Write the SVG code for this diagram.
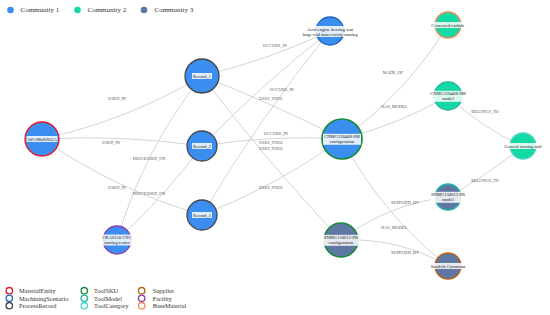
<svg xmlns="http://www.w3.org/2000/svg" width="550" height="315" viewBox="0 0 550 315">
<style>
.edge{fill:none;stroke:#cfcfcf;stroke-width:0.9}
.el{font-family:"Liberation Serif","Times New Roman",serif;font-size:4.3px;fill:#555;text-anchor:middle;dominant-baseline:central}
.nl{font-family:"Liberation Serif","Times New Roman",serif;font-size:4.6px;fill:#222;text-anchor:middle;dominant-baseline:central}
.bg{fill:#fff;fill-opacity:0.85}
.c1{fill:#3b8def}.c2{fill:#15d9a4}.c3{fill:#5f77a3}
.n{stroke-width:1.3}
.mat{stroke:#e41a2a}.scn{stroke:#1f63c6}.rec{stroke:#444}.sku{stroke:#178a3a;stroke-width:1.6}
.mdl{stroke:#1fb5a5}.cat{stroke:#48d8c8}.sup{stroke:#b8620f}.fac{stroke:#8e3ba6}.bm{stroke:#f58a5c}
.lg{font-family:"Liberation Serif","Times New Roman",serif;fill:#333;dominant-baseline:central}
.lc{fill:#fff;stroke-width:1.3}
</style>
<rect width="550" height="315" fill="#fff"/>
<g id="legend-community">
<circle cx="10.5" cy="10" r="3.3" class="c1"/><text class="lg" x="20.5" y="10" font-size="7">Community 1</text>
<circle cx="77.5" cy="10" r="3.3" class="c2"/><text class="lg" x="87.5" y="10" font-size="7">Community 2</text>
<circle cx="144" cy="10" r="3.3" class="c3"/><text class="lg" x="154.5" y="10" font-size="7">Community 3</text>
</g>
<g id="connectors">
<path class="edge" d="M42 139 Q127.1 120.5 202 76"/>
<path class="edge" d="M42 139 Q122.4 134.5 202 146"/>
<path class="edge" d="M42 139 Q116 189.7 202 215"/>
<path class="edge" d="M202 76 Q143.5 149.7 117 240"/>
<path class="edge" d="M202 146 Q164 197 117 240"/>
<path class="edge" d="M202 76 Q268.3 60.1 330 31"/>
<path class="edge" d="M202 146 Q262 84 330 31"/>
<path class="edge" d="M202 215 Q259.4 118.4 330 31"/>
<path class="edge" d="M202 76 Q273.6 103.9 342 139"/>
<path class="edge" d="M202 146 Q271.6 134.5 342 139"/>
<path class="edge" d="M202 215 Q276.8 185.8 342 139"/>
<path class="edge" d="M202 76 Q266.9 161.9 341 240"/>
<path class="edge" d="M342 139 Q406.7 92.9 448 25"/>
<path class="edge" d="M342 139 Q398 124.9 448 96"/>
<path class="edge" d="M448 96 Q481 127.7 523 146"/>
<path class="edge" d="M448 197 Q487.7 174.8 523 146"/>
<path class="edge" d="M341 240 Q388.5 203.7 448 197"/>
<path class="edge" d="M341 240 Q398.3 237.4 448 266"/>
<path class="edge" d="M342 139 Q381.2 214 448 266"/>
<text class="el" x="117" y="98">USED_IN</text>
<text class="el" x="111" y="142">USED_IN</text>
<text class="el" x="117" y="187">USED_IN</text>
<text class="el" x="149" y="158">PROCESSED_ON</text>
<text class="el" x="149" y="193">PROCESSED_ON</text>
<text class="el" x="275" y="45">OCCURS_IN</text>
<text class="el" x="282" y="89">OCCURS_IN</text>
<text class="el" x="276" y="133">OCCURS_IN</text>
<text class="el" x="271" y="98">USES_TOOL</text>
<text class="el" x="271" y="142">USES_TOOL</text>
<text class="el" x="271" y="148">USES_TOOL</text>
<text class="el" x="271" y="187">USES_TOOL</text>
<text class="el" x="393" y="72">MADE_OF</text>
<text class="el" x="394" y="106">HAS_MODEL</text>
<text class="el" x="485" y="111">BELONGS_TO</text>
<text class="el" x="485" y="180">BELONGS_TO</text>
<text class="el" x="405" y="202">SUPPLIED_BY</text>
<text class="el" x="394" y="227">HAS_MODEL</text>
<text class="el" x="405" y="252">SUPPLIED_BY</text>
</g>
<g id="material-50CrMnSiNi2A">
<circle cx="42" cy="139" r="17" class="n c1 mat"/>
<rect class="bg" x="26.5" y="136" width="31" height="6"/>
<text class="nl" x="42" y="139">50CrMnSiNi2A</text>
</g>
<g id="record-1">
<circle cx="202" cy="76" r="17" class="n c1 rec"/>
<rect class="bg" x="192" y="73" width="20" height="6"/>
<text class="nl" x="202" y="76">Record_1</text>
</g>
<g id="record-2">
<circle cx="202" cy="146" r="15" class="n c1 rec"/>
<rect class="bg" x="192" y="143" width="20" height="6"/>
<text class="nl" x="202" y="146">Record_2</text>
</g>
<g id="record-3">
<circle cx="202" cy="215" r="15" class="n c1 rec"/>
<rect class="bg" x="192" y="212" width="20" height="6"/>
<text class="nl" x="202" y="215">Record_3</text>
</g>
<g id="facility-CKA6150">
<circle cx="117" cy="240" r="14" class="n c1 fac"/>
<rect class="bg" x="101.5" y="234.5" width="31" height="11"/>
<text class="nl" x="117" y="237.6">CKA6150 CNC</text>
<text class="nl" x="117" y="242.4">turning center</text>
</g>
<g id="scenario-aero">
<circle cx="330" cy="31" r="14" class="n c1 scn"/>
<rect class="bg" x="302" y="26" width="56" height="11"/>
<text class="nl" x="330" y="29.2">Aero-engine bearing seat</text>
<text class="nl" x="330" y="34">large-end inner-cavity turning</text>
</g>
<g id="sku-CNMG120408-SM">
<circle cx="342" cy="139" r="20" class="n c1 sku"/>
<rect class="bg" x="323" y="133.8" width="38" height="11"/>
<text class="nl" x="342" y="136.8">CNMG120408-SM</text>
<text class="nl" x="342" y="141.8">configuration</text>
</g>
<g id="basematerial-cemented-carbide">
<circle cx="448" cy="25" r="13" class="n c2 bm"/>
<rect class="bg" x="431" y="22" width="34" height="6"/>
<text class="nl" x="448" y="25">Cemented carbide</text>
</g>
<g id="model-CNMG120408-SM">
<circle cx="448" cy="96" r="14" class="n c2 mdl"/>
<rect class="bg" x="429.5" y="90.8" width="37" height="11"/>
<text class="nl" x="448" y="93.6">CNMG120408-SM</text>
<text class="nl" x="448" y="98.4">model</text>
</g>
<g id="category-general-turning-tool">
<circle cx="523" cy="146" r="13" class="n c2 cat"/>
<rect class="bg" x="503.5" y="143" width="39" height="6"/>
<text class="nl" x="523" y="146">General turning tool</text>
</g>
<g id="model-SNMG150612-PR">
<circle cx="448" cy="197" r="13" class="n c3 mdl"/>
<rect class="bg" x="430.5" y="191.8" width="35" height="11"/>
<text class="nl" x="448" y="194.6">SNMG150612-PR</text>
<text class="nl" x="448" y="199.4">model</text>
</g>
<g id="sku-SNMG150612-PR">
<circle cx="341" cy="240" r="17" class="n c3 sku"/>
<rect class="bg" x="323" y="234.8" width="36" height="11"/>
<text class="nl" x="341" y="237.6">SNMG150612-PR</text>
<text class="nl" x="341" y="242.4">configuration</text>
</g>
<g id="supplier-sandvik">
<circle cx="448" cy="266" r="13" class="n c3 sup"/>
<rect class="bg" x="430.5" y="263" width="35" height="6"/>
<text class="nl" x="448" y="266">Sandvik Coromant</text>
</g>
<g id="legend-types">
<circle cx="9.3" cy="290.7" r="3.2" class="lc mat"/><text class="lg" x="19" y="290.7" font-size="6.3">MaterialEntity</text>
<circle cx="9.3" cy="298.3" r="3.2" class="lc scn"/><text class="lg" x="19" y="298.3" font-size="6.3">MachiningScenario</text>
<circle cx="9.3" cy="305.7" r="3.2" class="lc rec"/><text class="lg" x="19" y="305.7" font-size="6.3">ProcessRecord</text>
<circle cx="84.3" cy="290.7" r="3.2" class="lc" stroke="#178a3a"/><text class="lg" x="94" y="290.7" font-size="6.3">ToolSKU</text>
<circle cx="84.3" cy="298.3" r="3.2" class="lc mdl"/><text class="lg" x="94" y="298.3" font-size="6.3">ToolModel</text>
<circle cx="84.3" cy="305.7" r="3.2" class="lc cat"/><text class="lg" x="94" y="305.7" font-size="6.3">ToolCategory</text>
<circle cx="141.7" cy="290.7" r="3.2" class="lc sup"/><text class="lg" x="152.7" y="290.7" font-size="6.3">Supplier</text>
<circle cx="141.7" cy="298.3" r="3.2" class="lc fac"/><text class="lg" x="152.7" y="298.3" font-size="6.3">Facility</text>
<circle cx="141.7" cy="305.7" r="3.2" class="lc bm"/><text class="lg" x="152.7" y="305.7" font-size="6.3">BaseMaterial</text>
</g>
</svg>
